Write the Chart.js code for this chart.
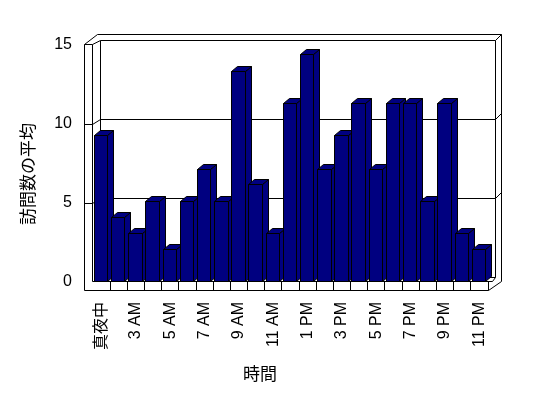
<!DOCTYPE html>
<html>
<head>
<meta charset="utf-8">
<script src="https://cdn.jsdelivr.net/npm/chart.js@4.4.1/dist/chart.umd.min.js"></script>
<style>
  html, body { margin: 0; padding: 0; background: #fff; }
  #chart { display: block; }
</style>
</head>
<body>
<canvas id="chart" width="548" height="398"></canvas>
<script>
const hours = ['真夜中', '1 AM', '3 AM', '4 AM', '5 AM', '6 AM', '7 AM', '8 AM', '9 AM', '10 AM', '11 AM', '正午',
    '1 PM', '2 PM', '3 PM', '4 PM', '5 PM', '6 PM', '7 PM', '8 PM', '9 PM', '10 PM', '11 PM'];
const avgVisits = [9.25, 4.1, 3.1, 5.1, 2.05, 5.1, 7.15, 5.1, 13.3, 6.15, 3.1, 11.3,
    14.4, 7.15, 9.25, 11.3, 7.15, 11.3, 11.3, 5.1, 11.3, 3.1, 2.05];
const valueTicks = [0, 5, 10, 15];
const xTitle = '時間';
const yTitle = '訪問数の平均';

const FONT = "'Liberation Sans', 'Noto Sans CJK JP', sans-serif";
const CJK = "'Noto Sans CJK JP', sans-serif";
const NAVY = '#000080';

// depth of the 3D box and of the bars
const WALL_DX = 7, WALL_DY = -5;
const BAR_DX = 6, BAR_DY = -5;

function px(v) { return Math.floor(v) + 0.5; }

function line(ctx, x1, y1, x2, y2) {
    ctx.beginPath();
    ctx.moveTo(x1, y1);
    ctx.lineTo(x2, y2);
    ctx.stroke();
}

function poly(ctx, pts) {
    ctx.beginPath();
    ctx.moveTo(pts[0][0], pts[0][1]);
    for (let i = 1; i < pts.length; i++) ctx.lineTo(pts[i][0], pts[i][1]);
    ctx.closePath();
    ctx.fill();
    ctx.stroke();
}

const box3d = {
    id: 'box3d',
    beforeDatasetsDraw(chart) {
        const ctx = chart.ctx;
        const { left: L, right: R, top: T, bottom: B } = chart.chartArea;
        const y = chart.scales.y;
        const n = hours.length;
        const slot = (R - L) / n;

        ctx.save();
        ctx.strokeStyle = '#000';
        ctx.lineWidth = 1;

        const xo = px(L - 9), xi = px(L - 1);
        const bl = px(L + WALL_DX), br = px(R + WALL_DX), ro = px(R + 13);
        const topOut = px(T - 11), topIn = px(T + WALL_DY), topFront = px(T - 1);
        const floorTop = px(B - 1), floorBot = px(B + 8), backBot = px(B + WALL_DY);

        // back wall
        ctx.fillStyle = '#fff';
        ctx.fillRect(bl, topIn, br - bl, backBot - topIn);
        line(ctx, bl, topIn, br, topIn);
        line(ctx, bl, topIn, bl, backBot);
        line(ctx, br, topIn, br, backBot);
        line(ctx, bl, backBot, br, backBot);

        // gridlines on walls
        valueTicks.forEach(v => {
            if (v === 0 || v === 15) return;
            const yf = y.getPixelForValue(v);
            line(ctx, xo, px(yf), xi, px(yf));
            line(ctx, xi, px(yf), bl, px(yf + WALL_DY));
            line(ctx, bl, px(yf + WALL_DY), br, px(yf + WALL_DY));
            line(ctx, br, px(yf + WALL_DY), ro, px(yf - 11));
        });

        // left wall
        line(ctx, xo, topFront, xo, floorBot);
        line(ctx, xi, topFront, xi, floorTop);
        line(ctx, xo, topFront, xi, topFront);
        line(ctx, xo, topFront, px(L + 4), topOut);
        line(ctx, xi, topFront, bl, topIn);
        line(ctx, px(L + 4), topOut, ro, topOut);

        // right wall
        line(ctx, ro, topOut, ro, floorTop);
        line(ctx, br, topIn, ro, topOut);

        // floor
        line(ctx, xo, floorBot, px(R), floorBot);
        line(ctx, px(R), floorBot, ro, floorTop);
        line(ctx, xi, floorTop, px(R + 4), floorTop);
        line(ctx, px(R + 4), floorTop, br, backBot);
        for (let i = 1; i <= n; i++) {
            const x = px(L + i * slot);
            line(ctx, x, floorTop, x, floorBot);
        }
        ctx.restore();
    },
    afterDatasetsDraw(chart) {
        const ctx = chart.ctx;
        const bars = chart.getDatasetMeta(0).data;
        ctx.save();
        ctx.strokeStyle = '#000';
        ctx.fillStyle = NAVY;
        ctx.lineWidth = 1;
        bars.forEach(bar => {
            const { x, y, width, base } = bar.getProps(['x', 'y', 'width', 'base'], true);
            const x0 = px(x - width / 2), x1 = px(x + width / 2 - 1);
            const y0 = px(y), yb = px(base - 1);
            // front
            poly(ctx, [[x0, y0], [x1, y0], [x1, yb], [x0, yb]]);
            // side
            poly(ctx, [[x1, y0], [x1 + BAR_DX, y0 + BAR_DY], [x1 + BAR_DX, yb + BAR_DY], [x1, yb]]);
            // top
            poly(ctx, [[x0, y0], [x0 + BAR_DX, y0 + BAR_DY], [x1 + BAR_DX, y0 + BAR_DY], [x1, y0]]);
        });
        ctx.restore();
    },
    afterDraw(chart) {
        const ctx = chart.ctx;
        ctx.save();
        ctx.fillStyle = '#000';
        ctx.textAlign = 'center';
        ctx.textBaseline = 'middle';
        ctx.font = '17px ' + CJK;
        ctx.fillText(xTitle, 260, 374);
        ctx.translate(28, 174);
        ctx.rotate(-Math.PI / 2);
        ctx.fillText(yTitle, 0, 0);
        ctx.restore();
    }
};

const ctx = document.getElementById('chart').getContext('2d');
const chart = new Chart(ctx, {
    type: 'bar',
    data: {
        labels: hours,
        datasets: [{
            label: yTitle,
            data: avgVisits,
            backgroundColor: NAVY,
            borderColor: '#000',
            borderWidth: 1,
            categoryPercentage: 0.84,
            barPercentage: 1
        }]
    },
    options: {
        responsive: false,
        animation: false,
        events: [],
        layout: { padding: { left: 0, right: 60, top: 45, bottom: 0 } },
        plugins: {
            legend: { display: false },
            tooltip: { enabled: false }
        },
        scales: {
            x: {
                grid: { display: false, drawTicks: false },
                border: { display: false },
                afterFit(scale) { scale.height = 398 - 282; },
                ticks: {
                    autoSkip: false,
                    minRotation: 90,
                    maxRotation: 90,
                    padding: 20,
                    color: '#000',
                    font: { family: FONT, size: 16 },
                    callback: function(value, index) {
                        return index % 2 === 0 ? this.getLabelForValue(value) : '';
                    }
                }
            },
            y: {
                min: 0,
                max: 15,
                grid: { display: false, drawTicks: false },
                border: { display: false },
                afterFit(scale) { scale.width = 93; },
                ticks: {
                    stepSize: 5,
                    padding: 21,
                    color: '#000',
                    font: { family: FONT, size: 16 }
                }
            }
        }
    },
    plugins: [box3d]
});
</script>
</body>
</html>
